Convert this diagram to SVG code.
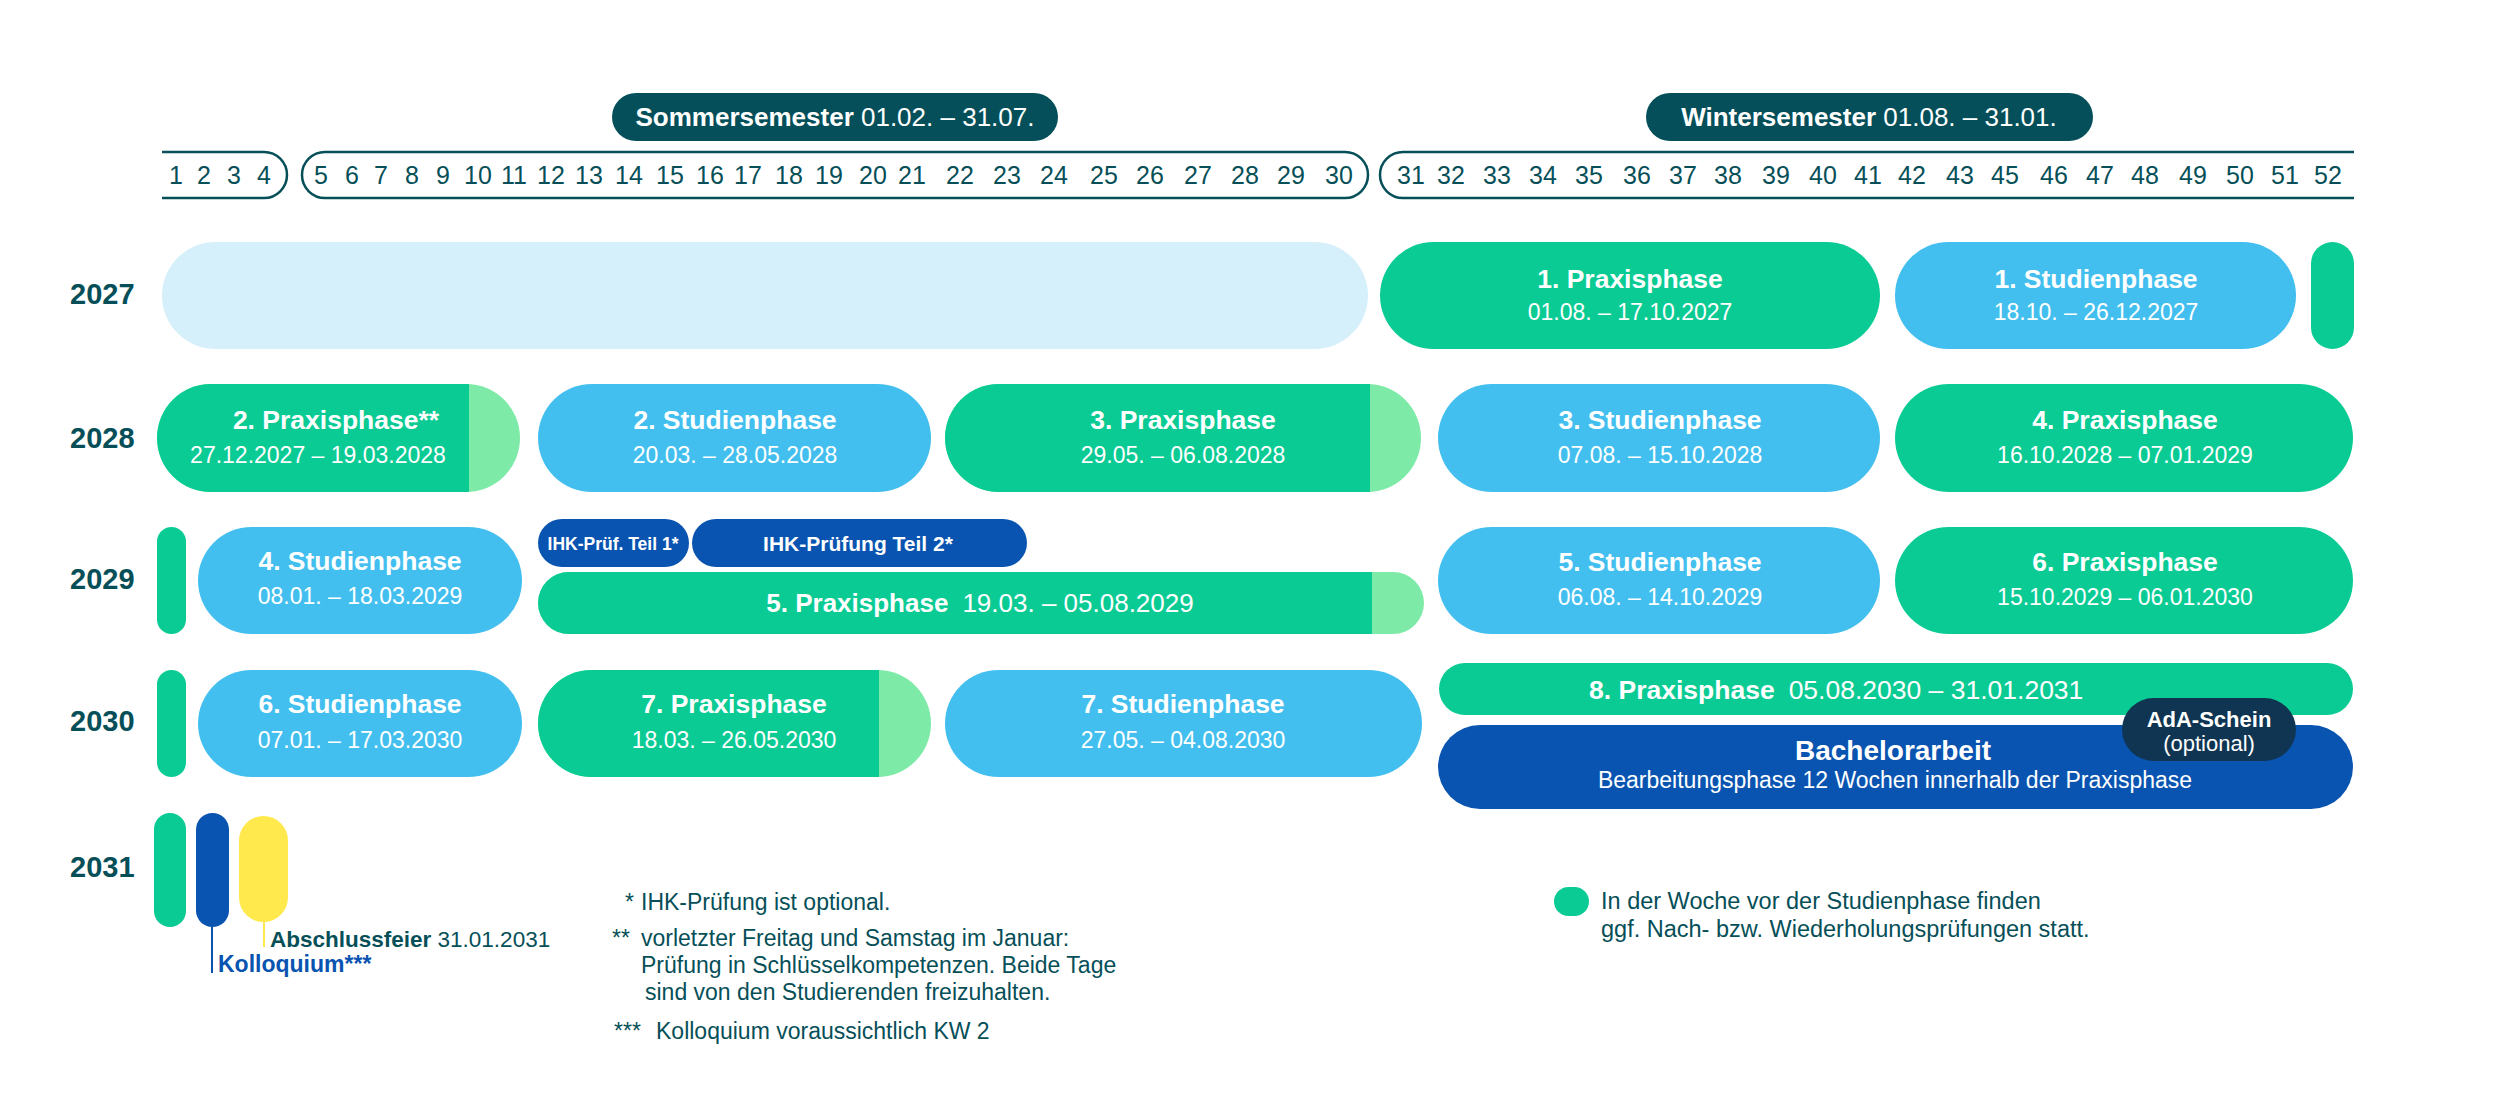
<svg xmlns="http://www.w3.org/2000/svg" width="2500" height="1098" viewBox="0 0 2500 1098">
<style>
text{font-family:"Liberation Sans",Arial,sans-serif;}
.wk{font-size:25px;fill:#064f58;text-anchor:middle;}
.yr{font-size:29px;font-weight:bold;fill:#064f58;}
.t{font-size:26.5px;font-weight:bold;fill:#fff;text-anchor:middle;}
.d{font-size:23px;fill:#fff;text-anchor:middle;}
.g{fill:#0acb94;}
.lg{fill:#7deba7;}
.b{fill:#43bfef;}
.lb{fill:#d5f0fa;}
.db{fill:#0954b0;}
.hdr{fill:#044f59;}
.box{fill:none;stroke:#064f58;stroke-width:2.5;}
.fn{font-size:23px;fill:#064f58;}
.lgd{font-size:23.5px;fill:#064f58;}
</style>
<g id="header">
<g id="sommersemester"><rect class="hdr" x="612" y="93" width="446" height="48" rx="24"/><text x="835" y="126" style="font-size:26px;fill:#fff;text-anchor:middle"><tspan font-weight="bold">Sommersemester</tspan> 01.02. – 31.07.</text></g>
<g id="wintersemester"><rect class="hdr" x="1646" y="93" width="447" height="48" rx="24"/><text x="1869" y="126" style="font-size:26px;fill:#fff;text-anchor:middle"><tspan font-weight="bold">Wintersemester</tspan> 01.08. – 31.01.</text></g>
<g id="weeks">
<path class="box" d="M162,152 H264 A23,23 0 0 1 264,198 H162"/>
<rect class="box" x="302" y="152" width="1066" height="46" rx="23"/>
<path class="box" d="M2354,152 H1403 A23,23 0 0 0 1403,198 H2354"/>
<text class="wk" y="184"><tspan x="176">1</tspan><tspan x="204">2</tspan><tspan x="234">3</tspan><tspan x="264">4</tspan><tspan x="321">5</tspan><tspan x="352">6</tspan><tspan x="381">7</tspan><tspan x="412">8</tspan><tspan x="443">9</tspan><tspan x="478">10</tspan><tspan x="514">11</tspan><tspan x="551">12</tspan><tspan x="589">13</tspan><tspan x="629">14</tspan><tspan x="670">15</tspan><tspan x="710">16</tspan><tspan x="748">17</tspan><tspan x="789">18</tspan><tspan x="829">19</tspan><tspan x="873">20</tspan><tspan x="912">21</tspan><tspan x="960">22</tspan><tspan x="1007">23</tspan><tspan x="1054">24</tspan><tspan x="1104">25</tspan><tspan x="1150">26</tspan><tspan x="1198">27</tspan><tspan x="1245">28</tspan><tspan x="1291">29</tspan><tspan x="1339">30</tspan><tspan x="1411">31</tspan><tspan x="1451">32</tspan><tspan x="1497">33</tspan><tspan x="1543">34</tspan><tspan x="1589">35</tspan><tspan x="1637">36</tspan><tspan x="1683">37</tspan><tspan x="1728">38</tspan><tspan x="1776">39</tspan><tspan x="1823">40</tspan><tspan x="1868">41</tspan><tspan x="1912">42</tspan><tspan x="1960">43</tspan><tspan x="2005">45</tspan><tspan x="2054">46</tspan><tspan x="2100">47</tspan><tspan x="2145">48</tspan><tspan x="2193">49</tspan><tspan x="2240">50</tspan><tspan x="2285">51</tspan><tspan x="2328">52</tspan></text>
</g>
</g>
<g id="years">
<text class="yr" x="70" y="304">2027</text>
<text class="yr" x="70" y="448">2028</text>
<text class="yr" x="70" y="589">2029</text>
<text class="yr" x="70" y="731">2030</text>
<text class="yr" x="70" y="877">2031</text>
</g>
<g id="connectors">
<line x1="264" y1="921" x2="264" y2="947" stroke="#ffe94d" stroke-width="2"/>
<line x1="212" y1="926" x2="212" y2="973" stroke="#0954b0" stroke-width="2"/>
</g>
<g id="row2027">
<g id="before-start"><rect class="lb" x="162" y="242" width="1206" height="107" rx="53.5"/></g>
<g id="praxis1"><rect class="g" x="1380" y="242" width="500" height="107" rx="53.5"/><text class="t" x="1630" y="288">1. Praxisphase</text><text class="d" x="1630" y="320">01.08. – 17.10.2027</text></g>
<g id="studien1"><rect class="b" x="1895" y="242" width="401" height="107" rx="53.5"/><text class="t" x="2096" y="288">1. Studienphase</text><text class="d" x="2096" y="320">18.10. – 26.12.2027</text></g>
<g id="pruefwoche2027"><rect class="g" x="2311" y="242" width="43" height="107" rx="21.5"/></g>
</g>
<g id="row2028">
<g id="praxis2"><rect class="lg" x="157" y="384" width="363" height="108" rx="54"/><path class="g" d="M469,384 H211 A54,54 0 0 0 211,492 H469 Z"/><text class="t" x="336" y="429">2. Praxisphase**</text><text class="d" x="318" y="463">27.12.2027 – 19.03.2028</text></g>
<g id="studien2"><rect class="b" x="538" y="384" width="393" height="108" rx="54"/><text class="t" x="735" y="429">2. Studienphase</text><text class="d" x="735" y="463">20.03. – 28.05.2028</text></g>
<g id="praxis3"><rect class="lg" x="945" y="384" width="476" height="108" rx="54"/><path class="g" d="M1370,384 H999 A54,54 0 0 0 999,492 H1370 Z"/><text class="t" x="1183" y="429">3. Praxisphase</text><text class="d" x="1183" y="463">29.05. – 06.08.2028</text></g>
<g id="studien3"><rect class="b" x="1438" y="384" width="442" height="108" rx="54"/><text class="t" x="1660" y="429">3. Studienphase</text><text class="d" x="1660" y="463">07.08. – 15.10.2028</text></g>
<g id="praxis4"><rect class="g" x="1895" y="384" width="458" height="108" rx="54"/><text class="t" x="2125" y="429">4. Praxisphase</text><text class="d" x="2125" y="463">16.10.2028 – 07.01.2029</text></g>
</g>
<g id="row2029">
<g id="pruefwoche2029"><rect class="g" x="157" y="527" width="29" height="107" rx="14.5"/></g>
<g id="studien4"><rect class="b" x="198" y="527" width="324" height="107" rx="53.5"/><text class="t" x="360" y="570">4. Studienphase</text><text class="d" x="360" y="604">08.01. – 18.03.2029</text></g>
<g id="ihk1"><rect class="db" x="538" y="519" width="151" height="48" rx="24"/><text x="613" y="550" style="font-size:17.5px;font-weight:bold;fill:#fff;text-anchor:middle">IHK-Prüf. Teil 1*</text></g>
<g id="ihk2"><rect class="db" x="692" y="519" width="335" height="48" rx="24"/><text x="858" y="551" style="font-size:21px;font-weight:bold;fill:#fff;text-anchor:middle">IHK-Prüfung Teil 2*</text></g>
<g id="praxis5"><rect class="lg" x="538" y="572" width="886" height="62" rx="31"/><path class="g" d="M1372,572 H569 A31,31 0 0 0 569,634 H1372 Z"/><text x="980" y="612" style="font-size:26px;fill:#fff;text-anchor:middle"><tspan font-weight="bold">5. Praxisphase</tspan><tspan dx="14">19.03. – 05.08.2029</tspan></text></g>
<g id="studien5"><rect class="b" x="1438" y="527" width="442" height="107" rx="53.5"/><text class="t" x="1660" y="571">5. Studienphase</text><text class="d" x="1660" y="605">06.08. – 14.10.2029</text></g>
<g id="praxis6"><rect class="g" x="1895" y="527" width="458" height="107" rx="53.5"/><text class="t" x="2125" y="571">6. Praxisphase</text><text class="d" x="2125" y="605">15.10.2029 – 06.01.2030</text></g>
</g>
<g id="row2030">
<g id="pruefwoche2030"><rect class="g" x="157" y="670" width="29" height="107" rx="14.5"/></g>
<g id="studien6"><rect class="b" x="198" y="670" width="324" height="107" rx="53.5"/><text class="t" x="360" y="713">6. Studienphase</text><text class="d" x="360" y="748">07.01. – 17.03.2030</text></g>
<g id="praxis7"><rect class="lg" x="538" y="670" width="393" height="107" rx="53.5"/><path class="g" d="M879,670 H591.5 A53.5,53.5 0 0 0 591.5,777 H879 Z"/><text class="t" x="734" y="713">7. Praxisphase</text><text class="d" x="734" y="748">18.03. – 26.05.2030</text></g>
<g id="studien7"><rect class="b" x="945" y="670" width="477" height="107" rx="53.5"/><text class="t" x="1183" y="713">7. Studienphase</text><text class="d" x="1183" y="748">27.05. – 04.08.2030</text></g>
<g id="praxis8"><rect class="g" x="1439" y="663" width="914" height="52" rx="26"/><text x="1589" y="699" style="font-size:26.5px;fill:#fff"><tspan font-weight="bold">8. Praxisphase</tspan><tspan dx="14">05.08.2030 – 31.01.2031</tspan></text></g>
<g id="bachelorarbeit"><rect class="db" x="1438" y="725" width="915" height="84" rx="42"/><text x="1893" y="760" style="font-size:28px;font-weight:bold;fill:#fff;text-anchor:middle">Bachelorarbeit</text><text x="1895" y="788" style="font-size:23px;fill:#fff;text-anchor:middle">Bearbeitungsphase 12 Wochen innerhalb der Praxisphase</text></g>
<g id="ada"><rect x="2122" y="698" width="174" height="63" rx="31.5" fill="#0f3552"/><text x="2209" y="727" style="font-size:22px;font-weight:bold;fill:#fff;text-anchor:middle">AdA-Schein</text><text x="2209" y="751" style="font-size:22px;fill:#fff;text-anchor:middle">(optional)</text></g>
</g>
<g id="row2031">
<g id="pruefwoche2031"><rect class="g" x="154" y="813" width="32" height="114" rx="16"/></g>
<g id="kolloquium"><rect class="db" x="196" y="813" width="33" height="114" rx="16.5"/><text x="218" y="972" style="font-size:23px;font-weight:bold;fill:#0954b0">Kolloquium***</text></g>
<g id="abschlussfeier"><rect x="239" y="816" width="49" height="106" rx="24.5" fill="#ffe94d"/><text x="270" y="947" style="font-size:22.5px;fill:#064f58"><tspan font-weight="bold">Abschlussfeier</tspan> 31.01.2031</text></g>
</g>
<g id="footnotes">
<text class="fn" x="625" y="910">*</text><text class="fn" x="641" y="910">IHK-Prüfung ist optional.</text>
<text class="fn" x="612" y="946">**</text><text class="fn" x="641" y="946">vorletzter Freitag und Samstag im Januar:</text>
<text class="fn" x="641" y="973">Prüfung in Schlüsselkompetenzen. Beide Tage</text>
<text class="fn" x="645" y="1000">sind von den Studierenden freizuhalten.</text>
<text class="fn" x="614" y="1039">***</text><text class="fn" x="656" y="1039">Kolloquium voraussichtlich KW 2</text>
</g>
<g id="legend">
<rect class="g" x="1554" y="887" width="35" height="29" rx="14.5"/>
<text class="lgd" x="1601" y="909">In der Woche vor der Studienphase finden</text>
<text class="lgd" x="1601" y="937">ggf. Nach- bzw. Wiederholungsprüfungen statt.</text>
</g>
</svg>
